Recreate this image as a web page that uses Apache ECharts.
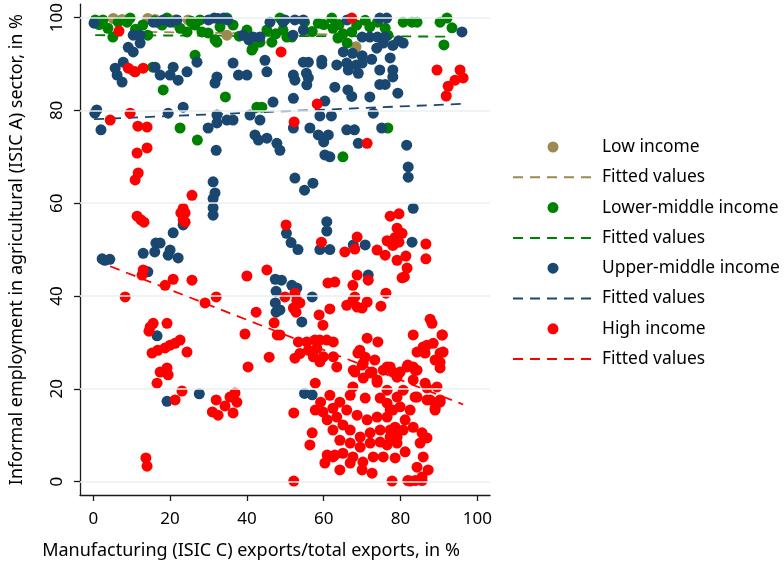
<!DOCTYPE html>
<html>
<head>
<meta charset="utf-8">
<script src="https://cdn.jsdelivr.net/npm/echarts@6/dist/echarts.min.js"></script>
<style>
  html, body { margin: 0; padding: 0; background: #fff; }
  #chart { width: 784px; height: 568px; }
</style>
</head>
<body>
<div id="chart"></div>
<script>
// Axis ticks
const xTicks = [0, 20, 40, 60, 80, 100];
const yTicks = [0, 20, 40, 60, 80, 100];

// [manufacturing export share %, informal agricultural employment %]
const lowIncome = [
  [5.2,99.8],[7.5,99.6],[14.2,99.8],[16.1,99.6],[19.2,99.8],[21.3,99.5],[24.7,99.5],[25.7,98.8],
  [34.8,96.2],[10.4,88.5],[68.4,93.7]
];

const lowerMiddle = [
  [0.5,99.5],[1.5,98.5],[2.5,99.5],[3.8,97.7],[5.1,95.8],[6.5,99.0],[8.8,99.0],[9.6,99.9],[11.0,97.5],
  [12.9,98.4],[14.2,96.2],[16.0,99.3],[17.9,98.4],[19.2,99.9],[21.0,99.0],[22.6,97.7],[24.4,96.9],
  [25.5,99.2],[26.5,98.4],[27.8,99.5],[28.3,96.9],[29.9,96.7],[31.7,95.2],[33.0,98.0],[34.8,99.9],
  [36.4,98.4],[38.0,96.0],[40.0,97.3],[41.6,93.5],[43.4,94.7],[45.2,97.3],[46.5,94.7],[47.5,96.5],
  [48.6,99.9],[50.4,95.8],[26.5,91.9],
  [18.2,84.4],[22.6,76.2],[27.1,73.6],[34.4,82.9],[42.6,80.7],[43.9,80.7],[15.5,89.3],[32.2,94.7],[41.3,93.0],
  [49.4,97.3],[51.7,95.8],[55.0,99.0],[57.0,97.0],[58.6,98.8],[60.0,98.5],[62.1,99.9],[62.4,97.7],
  [63.7,95.6],[64.0,98.5],[65.0,96.5],[66.1,94.5],[67.3,96.9],[68.6,98.4],[70.8,99.4],[72.0,98.0],
  [74.0,99.0],[76.0,97.7],[76.7,96.2],[80.7,99.0],[83.0,99.0],[84.3,99.0],[90.3,99.0],[92.1,99.9],
  [93.4,97.8],[91.3,94.1],[76.7,76.2],[65.0,70.0]
];

const upperMiddle = [
  [0.2,98.8],[10.4,96.2],[12.2,96.2],[9.1,93.6],[10.4,92.6],[12.2,94.5],[5.7,89.1],[6.2,87.6],[7.5,86.1],
  [7.8,90.4],[16.1,89.3],[17.4,87.6],[20.0,87.6],[20.8,89.3],[22.1,86.5],[24.4,88.3],[27.0,90.4],
  [32.2,87.2],[31.7,85.9],[36.4,90.2],[37.8,87.6],[40.0,87.6],[45.2,88.3],[44.7,90.8],[52.1,87.6],
  [52.5,86.5],[52.1,82.6],
  [0.9,80.1],[0.4,79.4],[2.0,75.8],[19.5,79.4],[23.4,80.7],[29.9,76.2],[32.2,79.0],[32.2,77.3],
  [34.8,77.9],[36.4,77.9],[32.0,71.4],[40.8,79.0],[43.4,77.9],[42.1,74.7],[43.0,73.6],[45.2,74.0],
  [46.8,81.8],[47.8,72.9],[48.6,71.4],[52.1,76.2],[31.2,64.6],[31.7,62.2],[52.5,65.4],
  [15.6,99.0],[16.5,99.0],[18.2,99.5],[20.0,99.0],[21.8,99.5],[30.0,99.5],[31.5,99.9],[32.5,99.8],
  [34.0,99.9],[35.0,99.5],[39.0,96.2],[40.5,95.2],[41.6,95.8],[43.4,95.8],[46.0,99.0],[49.4,99.0],
  [49.9,99.5],[52.5,99.5],[52.0,96.2],[54.7,99.5],[54.7,97.3],
  [96.0,96.9],[66.1,99.5],[74.6,99.9],[76.4,99.9],[70.0,95.8],[72.0,95.8],[74.0,95.8],[76.0,95.8],
  [73.8,93.4],[75.5,94.5],[78.0,94.0],[79.5,95.0],[80.7,94.5],
  [65.1,92.6],[67.5,92.3],[70.0,91.8],[72.5,91.0],[63.4,89.8],[66.0,90.2],[68.5,89.8],[70.0,90.2],
  [66.4,88.7],[69.0,88.0],[74.6,88.7],[77.3,91.3],[78.0,88.7],[78.0,87.2],[54.7,90.4],[56.0,90.4],
  [55.5,88.0],[56.0,87.0],[55.6,85.5],[59.5,90.8],[59.5,90.0],[62.9,85.0],[66.3,84.4],[67.3,83.0],
  [72.0,82.9],[74.6,85.6],[76.0,85.6],[79.3,83.7],[60.3,82.0],[59.0,78.8],[62.0,78.8],[72.9,79.4],
  [75.1,76.2],[56.4,76.2],[58.6,74.7],[61.2,74.7],[60.0,73.2],[66.0,75.8],[68.0,75.8],[69.0,72.9],
  [81.6,72.5],[60.3,70.4],[61.6,70.0],[82.0,67.8],[82.0,65.6],[55.0,62.8],[57.2,64.3],
  [83.3,58.9],[60.8,56.0],[60.8,54.0],[50.3,53.5],[51.5,51.5],[53.3,50.0],[59.0,50.0],[61.6,50.0],
  [67.7,51.0],[70.8,51.0],[83.0,51.6],[71.6,44.5],[49.0,43.4],[51.7,42.3],[53.0,41.7],[57.0,39.8],
  [48.6,37.0],[54.3,34.4],
  [31.2,61.0],[31.2,59.0],[31.2,57.4],[2.3,48.0],[3.0,47.7],[4.3,47.9],[13.0,49.2],[16.3,51.4],
  [17.4,51.4],[16.0,49.5],[19.5,48.8],[20.0,49.9],[22.1,48.2],[20.8,53.6],[23.4,55.3],[14.2,45.2],
  [47.4,43.6],[47.6,41.0],[47.4,38.5],[47.6,36.5],[16.6,31.4],
  [19.2,17.3],[27.6,18.9],[55.0,19.0],[57.0,18.7]
];

const highIncome = [
  [6.7,97.1],[9.1,89.1],[10.9,88.3],[13.0,89.1],[9.6,79.4],[4.4,77.9],[11.6,76.6],[14.0,76.4],
  [11.4,70.8],[14.0,71.9],[10.9,65.0],[11.7,66.5],[25.7,61.7],[48.9,92.6],[67.3,99.9],[52.3,77.5],
  [58.3,81.4],[71.3,72.9],[89.5,88.7],[95.5,88.7],[94.2,86.5],[96.3,87.0],[92.4,85.2],[91.9,83.1],
  [11.4,57.2],[12.4,56.4],[13.2,55.9],[23.4,58.9],[23.9,57.9],[22.8,57.9],[23.4,56.4],[23.9,55.9],
  [13.0,45.6],[12.7,44.5],[18.7,42.3],[20.8,43.6],[25.7,43.4],[8.3,39.8],[29.1,38.5],[32.0,39.8],
  [40.0,44.3],[45.2,45.6],[42.4,36.5],[39.5,31.8],[40.3,24.7],[45.8,26.8],[47.1,34.2],[47.9,31.6],
  [50.2,55.3],[49.9,39.8],
  [14.8,33.3],[15.6,34.1],[14.5,32.4],[19.2,34.1],
  [15.3,27.7],[16.8,28.3],[18.7,28.8],[20.0,29.4],[21.3,29.8],[22.6,30.5],[24.4,27.9],
  [17.4,23.6],[19.2,24.5],[19.5,23.0],[16.6,21.2],[23.1,19.5],[21.3,17.6],
  [32.0,17.6],[31.0,15.0],[32.5,14.3],[34.3,16.3],[35.6,18.2],[36.9,19.1],[37.4,17.1],[36.4,14.8],
  [13.7,5.1],[14.0,3.3],
  [59.4,51.6],[65.5,49.5],[68.1,50.1],[68.7,52.7],[73.9,49.9],[76.0,48.8],[77.3,57.2],[79.6,57.7],
  [76.5,51.9],[77.3,51.6],[78.6,52.6],[79.1,54.6],[80.4,53.5],[79.6,51.6],[78.0,50.9],
  [79.1,47.7],[81.4,48.6],[81.7,46.0],[80.4,43.9],[81.0,44.1],[86.6,51.2],[86.6,48.0],
  [61.1,42.8],[62.9,43.0],[68.7,44.5],[67.6,42.3],[71.6,43.4],
  [52.5,40.6],[53.0,39.1],[53.8,38.5],[52.1,37.4],[52.8,36.5],
  [61.6,37.2],[58.8,35.9],[59.8,33.7],
  [66.0,38.0],[67.6,39.1],[68.7,37.6],[70.0,37.4],[71.3,38.7],[68.1,39.8],
  [76.2,40.6],[74.9,37.8],[87.7,35.0],[88.2,34.1],[90.9,31.6],
  [48.6,31.6],[53.4,30.1],[55.6,30.1],[57.7,30.5],[59.0,30.5],[60.8,30.5],[62.5,30.1],[58.2,28.7],
  [56.0,28.3],[53.8,27.6],[52.5,26.6],[57.3,26.9],[59.9,26.9],[62.5,26.9],[59.0,25.8],[63.4,24.7],
  [71.3,30.9],[74.1,30.1],[69.4,28.3],[68.9,27.7],[73.3,26.2],
  [67.7,24.0],[70.3,25.5],[70.3,22.3],[72.1,23.4],[73.9,21.4],
  [76.5,24.7],[78.0,23.6],[79.9,23.6],[81.7,24.7],[83.3,24.7],[84.3,24.0],
  [83.3,31.6],[86.9,29.4],[88.5,29.8],[90.8,31.6],[91.1,27.9],[90.3,25.7],[90.3,24.5],[84.3,27.9],
  [83.3,21.9],[86.4,21.2],[89.5,20.4],[90.3,17.6],[89.0,15.8],[86.9,17.6],[84.3,18.2],
  [57.8,21.2],[52.2,14.8],[57.0,10.5],[56.4,7.9],[52.2,0.1],[60.3,4.0],[62.9,5.7],[64.2,2.5],
  [77.8,0.1],[81.9,0.2],[83.8,0.2],[85.6,0.2],
  [61.6,18.6],[59.2,17.1],[57.8,15.4],[59.8,15.0],[62.4,15.8],[64.2,17.1],[66.9,18.6],[67.6,20.4],
  [70.8,18.0],[74.7,18.0],[76.5,16.9],[60.9,13.3],[63.4,13.9],[66.0,15.4],[65.0,12.2],[62.4,11.1],
  [66.9,11.1],[68.7,14.3],[71.3,13.3],[73.9,13.9],[76.5,13.9],[78.0,15.4],[74.7,11.1],[72.1,10.5],
  [69.5,9.6],[77.3,11.1],[79.1,9.6],[64.2,8.9],[66.9,8.3],[69.5,7.4],[72.1,8.3],[74.7,8.5],
  [76.5,7.9],[60.9,5.7],[62.4,5.3],[65.0,6.1],[67.6,5.3],[66.9,4.0],[70.2,4.2],[72.9,5.3],
  [75.5,5.3],[70.0,2.5],[72.6,1.8],
  [70.8,26.8],[70.0,25.1],[68.1,23.6],[72.6,23.6],[73.9,21.9],[75.5,24.0],[77.3,24.7],[79.1,22.5],
  [76.5,19.7],
  [85.9,29.0],[86.4,27.7],[90.3,27.7],[89.0,26.2],[81.9,25.1],[83.8,24.0],[80.7,19.7],[86.9,20.2],
  [83.8,18.2],[87.7,17.6],[90.3,17.1],[89.0,15.4],[79.1,18.2],[77.3,15.4],[79.9,16.1],[82.5,15.4],
  [81.2,13.3],[78.6,11.7],[80.7,11.1],[83.3,11.7],[85.6,10.5],[86.9,9.4],[85.1,8.3],[77.3,9.6],
  [79.1,8.3],[81.2,6.4],[78.6,5.1],[85.9,5.3],[84.3,3.1],[87.2,2.5],[85.6,1.0],[82.5,0.1]
];

// Linear fit end points for each income group
const lowFit = [[5.2, 97.0], [68.4, 96.3]];
const lowerMiddleFit = [[0.5, 96.2], [93.4, 95.9]];
const upperMiddleFit = [[0.2, 78.1], [96.0, 81.4]];
const highFit = [[4.4, 46.4], [96.3, 16.6]];

const groupNames = ['Low income', 'Lower-middle income', 'Upper-middle income', 'High income'];
const groupColors = ['#9c8a4e', '#008000', '#1a476f', '#ff0000'];
const groupPoints = [lowIncome, lowerMiddle, upperMiddle, highIncome];
const groupFits = [lowFit, lowerMiddleFit, upperMiddleFit, highFit];

const FONT = '"Noto Sans", "DejaVu Sans", sans-serif';

const series = [{
  // horizontal grid lines at the y tick values
  name: 'grid',
  type: 'scatter',
  data: [],
  z: 0,
  silent: true,
  markLine: {
    silent: true,
    symbol: 'none',
    animation: false,
    label: { show: false },
    lineStyle: { color: '#e8eff1', width: 1.6, type: 'solid' },
    data: yTicks.map(v => ({ yAxis: v }))
  }
}];

groupNames.forEach((name, i) => {
  series.push({
    name: name,
    type: 'scatter',
    data: groupPoints[i],
    symbol: 'circle',
    symbolSize: 11,
    itemStyle: { color: groupColors[i], opacity: 1 },
    z: 2
  });
  series.push({
    name: name + ' fit',
    type: 'line',
    data: groupFits[i],
    symbol: 'none',
    showSymbol: false,
    lineStyle: { color: groupColors[i], width: 1.8, type: [10, 7] },
    itemStyle: { color: groupColors[i] },
    z: 2
  });
});

// Legend: marker entry then its dashed fit line, no marker on the line icon
const legendItems = [];
groupNames.forEach(n => {
  legendItems.push({ name: n });
  legendItems.push({ name: n + ' fit', itemStyle: { opacity: 0 } });
});

const chart = echarts.init(document.getElementById('chart'), null, { renderer: 'canvas' });
chart.setOption({
  animation: false,
  backgroundColor: '#ffffff',
  textStyle: { fontFamily: FONT },
  grid: { left: 80, right: 294, top: 4, bottom: 73, containLabel: false },
  xAxis: {
    type: 'value',
    min: -3.46,
    max: 103.3,
    name: 'Manufacturing (ISIC C) exports/total exports, in %',
    nameLocation: 'middle',
    nameGap: 47,
    nameTextStyle: { fontSize: 18, color: '#000', fontFamily: FONT, padding: [0, 68, 0, 0] },
    axisLine: { onZero: false, lineStyle: { color: '#1a1a1a', width: 1.3 } },
    axisTick: { customValues: xTicks, length: 6, lineStyle: { color: '#1a1a1a', width: 1.3 } },
    axisLabel: { customValues: xTicks, fontSize: 17, color: '#000', margin: 16, fontFamily: FONT },
    splitLine: { show: false }
  },
  yAxis: {
    type: 'value',
    min: -2.9,
    max: 102.9,
    name: 'Informal employment in agricultural (ISIC A) sector, in %',
    nameLocation: 'middle',
    nameGap: 54,
    nameRotate: 90,
    nameTextStyle: { fontSize: 18, color: '#000', fontFamily: FONT },
    axisLine: { onZero: false, lineStyle: { color: '#1a1a1a', width: 1.3 } },
    axisTick: { customValues: yTicks, length: 6, lineStyle: { color: '#1a1a1a', width: 1.3 } },
    axisLabel: { customValues: yTicks, fontSize: 17, color: '#000', margin: 14, rotate: 90, fontFamily: FONT },
    splitLine: { show: false }
  },
  legend: {
    orient: 'vertical',
    left: 507,
    top: 132,
    itemWidth: 80,
    itemHeight: 11,
    itemGap: 10.3,
    selectedMode: false,
    data: legendItems,
    formatter: n => (n.endsWith(' fit') ? 'Fitted values' : n),
    textStyle: { fontSize: 17.4, color: '#000', lineHeight: 20, padding: [0, 0, 0, 4], fontFamily: FONT }
  },
  series: series
});
</script>
</body>
</html>
